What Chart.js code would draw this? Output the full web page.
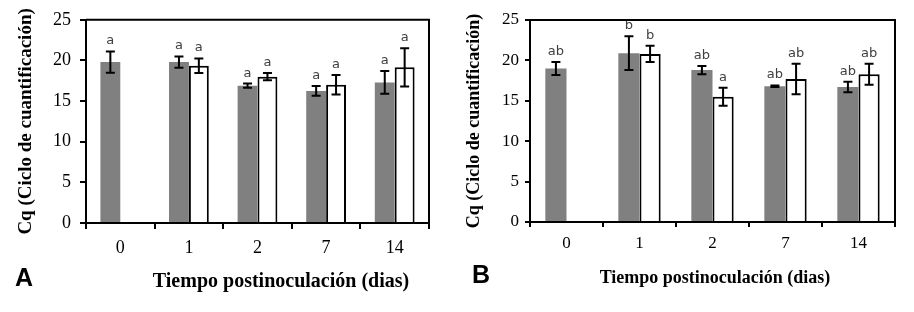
<!DOCTYPE html>
<html>
<head>
<meta charset="utf-8">
<title>Cq - Tiempo postinoculación</title>
<script src="https://cdn.jsdelivr.net/npm/chart.js@4.4.1/dist/chart.umd.min.js"></script>
<style>
  body {margin:0; background:#fff; width:914px; height:312px; position:relative; overflow:hidden;}
  canvas {position:absolute; top:0;}
  #chartA {left:0;}
  #chartB {left:460px;}
  .panel {position:absolute; font-family:"Liberation Sans", Arial, sans-serif; font-weight:bold; font-size:25px; line-height:1; color:#000;}
  .xtitle {position:absolute; font-family:"Liberation Serif", "Times New Roman", serif; font-weight:bold; line-height:1; color:#000; white-space:nowrap; transform:translate(-50%,-50%);}
</style>
</head>
<body>
<canvas id="chartA" width="460" height="312"></canvas>
<canvas id="chartB" width="454" height="312"></canvas>
<div class="panel" style="left:15px;top:265px">A</div>
<div class="panel" style="left:472px;top:262px">B</div>
<div class="xtitle" style="left:281px;top:280px;font-size:20px">Tiempo postinoculación (dias)</div>
<div class="xtitle" style="left:715px;top:277px;font-size:18px">Tiempo postinoculación (dias)</div>
<script>
// dias postinoculacion
const dias = ['0', '1', '2', '7', '14'];

// Panel A
const grisA = [19.8, 19.8, 16.9, 16.25, 17.3];
const grisA_err = [1.3, 0.7, 0.25, 0.6, 1.4];
const blancoA = [null, 19.35, 18.0, 17.0, 19.15];
const blancoA_err = [null, 0.9, 0.45, 1.2, 2.35];
const letrasGrisA = ['a', 'a', 'a', 'a', 'a'];
const letrasBlancoA = ['', 'a', 'a', 'a', 'a'];

// Panel B
const grisB = [19.0, 20.9, 18.8, 16.8, 16.7];
const grisB_err = [0.8, 2.1, 0.5, 0.1, 0.65];
const blancoB = [null, 20.8, 15.5, 17.7, 18.3];
const blancoB_err = [null, 1.0, 1.1, 1.9, 1.3];
const letrasGrisB = ['ab', 'b', 'ab', 'ab', 'ab'];
const letrasBlancoB = ['', 'b', 'a', 'ab', 'ab'];

const yTicks = [0, 5, 10, 15, 20, 25];

// error bars + letras de significancia
const errorBars = {
  id: 'errorBars',
  afterDatasetsDraw(chart) {
    const ctx = chart.ctx;
    const y = chart.scales.y;
    chart.data.datasets.forEach((ds, i) => {
      const meta = chart.getDatasetMeta(i);
      meta.data.forEach((bar, j) => {
        const v = ds.data[j];
        if (v == null) return;
        const e = ds.errores[j];
        const top = y.getPixelForValue(v + e);
        const bot = y.getPixelForValue(v - e);
        ctx.save();
        ctx.strokeStyle = '#000';
        ctx.lineWidth = 2;
        ctx.beginPath();
        ctx.moveTo(bar.x, top); ctx.lineTo(bar.x, bot);
        ctx.moveTo(bar.x - 4.5, top); ctx.lineTo(bar.x + 4.5, top);
        ctx.moveTo(bar.x - 4.5, bot); ctx.lineTo(bar.x + 4.5, bot);
        ctx.stroke();
        ctx.fillStyle = '#404040';
        ctx.font = '13px "DejaVu Sans"';
        ctx.textAlign = 'center';
        ctx.textBaseline = 'alphabetic';
        ctx.fillText(ds.letras[j], bar.x, top - 7);
        ctx.restore();
      });
    });
  }
};

// marco superior y derecho del area
const frame = {
  id: 'frame',
  afterDraw(chart) {
    const a = chart.chartArea, ctx = chart.ctx;
    ctx.save();
    ctx.strokeStyle = '#000';
    ctx.lineWidth = 2;
    ctx.beginPath();
    ctx.moveTo(a.left, a.top);
    ctx.lineTo(a.right, a.top);
    ctx.lineTo(a.right, a.bottom);
    ctx.stroke();
    ctx.restore();
  }
};

function makeChart(id, gris, grisErr, blanco, blancoErr, lg, lb, L) {
  return new Chart(document.getElementById(id), {
    type: 'bar',
    data: {
      labels: dias,
      datasets: [
        {data: gris, errores: grisErr, letras: lg, backgroundColor: '#808080', borderWidth: 0,
         categoryPercentage: 0.58, barPercentage: 1.0},
        {data: blanco, errores: blancoErr, letras: lb, backgroundColor: '#ffffff', borderColor: '#000',
         borderWidth: 2, categoryPercentage: 0.58, barPercentage: 1.0}
      ]
    },
    options: {
      responsive: false,
      animation: false,
      devicePixelRatio: 1,
      layout: {padding: {top: L.top, right: L.right, left: 0, bottom: 0}},
      plugins: {legend: {display: false}, tooltip: {enabled: false}},
      scales: {
        x: {
          offset: true,
          grid: {drawOnChartArea: false, drawTicks: true, tickLength: L.tick, color: '#000', lineWidth: 2, offset: true},
          border: {display: true, color: '#000', width: 2},
          ticks: {color: '#000', font: {family: 'Liberation Serif', size: L.font}, padding: L.xpad, maxRotation: 0},
          afterFit: s => { s.height = L.xh; }
        },
        y: {
          min: 0, max: 25,
          afterBuildTicks: s => { s.ticks = yTicks.map(v => ({value: v})); },
          grid: {drawOnChartArea: false, drawTicks: true, tickLength: L.tick, color: '#000', lineWidth: 2},
          border: {display: true, color: '#000', width: 2},
          ticks: {color: '#000', font: {family: 'Liberation Serif', size: L.font}, padding: L.ypad},
          title: {display: true, text: 'Cq (Ciclo de cuantificación)', color: '#000',
                  font: {family: 'Liberation Serif', size: L.tfont, weight: 'bold'},
                  padding: {top: L.tpad, bottom: 0}},
          afterFit: s => { s.width = L.yw; }
        }
      }
    },
    plugins: [errorBars, frame]
  });
}

makeChart('chartA', grisA, grisA_err, blancoA, blancoA_err, letrasGrisA, letrasBlancoA,
  {top: 17, right: 31, xh: 89, yw: 86, tick: 6, font: 18, xpad: 8, ypad: 9, tfont: 19, tpad: 15});
makeChart('chartB', grisB, grisB_err, blancoB, blancoB_err, letrasGrisB, letrasBlancoB,
  {top: 20, right: 19, xh: 90, yw: 70, tick: 5, font: 17, xpad: 6, ypad: 6, tfont: 18, tpad: 4});
</script>
</body>
</html>
